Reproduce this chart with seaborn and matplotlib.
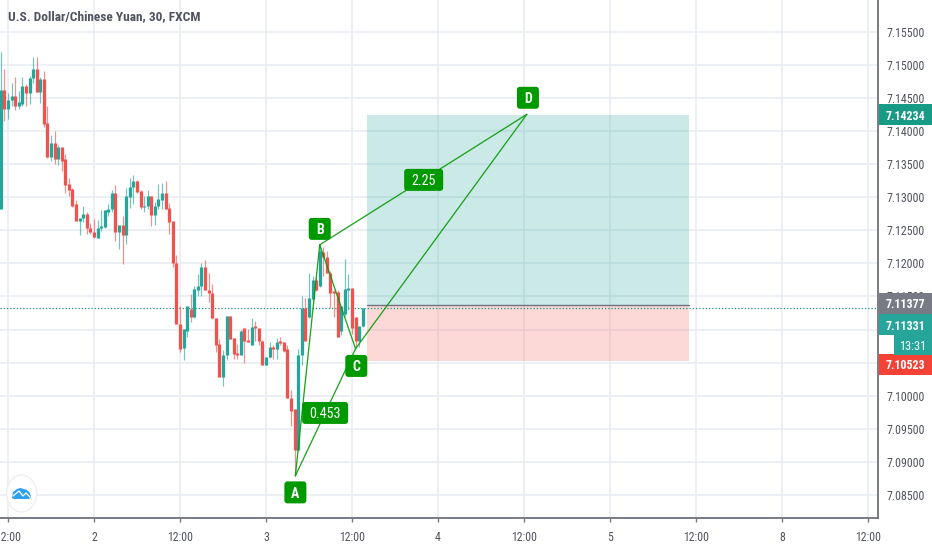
import numpy as np
import pandas as pd
import matplotlib
matplotlib.use("Agg")
import matplotlib.pyplot as plt
import seaborn as sns
from matplotlib.patches import FancyBboxPatch, Rectangle, Ellipse, Polygon
from matplotlib.transforms import IdentityTransform

# candles, 30 min bars. bar 0 = first 12:00 tick
bar_open = [7.1282, 7.1462, 7.1433, 7.1447, 7.1452, 7.1437, 7.1441, 7.1468, 7.1457, 7.1480,
            7.1494, 7.1459, 7.1478, 7.1412, 7.1360, 7.1381, 7.1357, 7.1376, 7.1357, 7.1320,
            7.1312, 7.1289, 7.1264, 7.1269, 7.1275, 7.1254, 7.1248, 7.1238, 7.1253, 7.1255,
            7.1278, 7.1282, 7.1306, 7.1247, 7.1258, 7.1243, 7.1300, 7.1315, 7.1324, 7.1309,
            7.1285, 7.1286, 7.1301, 7.1273, 7.1286, 7.1296, 7.1306, 7.1284, 7.1264, 7.1201,
            7.1109, 7.1072, 7.1098, 7.1131, 7.1119, 7.1160, 7.1165, 7.1194, 7.1160, 7.1155,
            7.1118, 7.1078, 7.1029, 7.1061, 7.1121, 7.1087, 7.1065, 7.1062, 7.1102, 7.1084,
            7.1077, 7.1105, 7.1103, 7.1083, 7.1047, 7.1058, 7.1073, 7.1071, 7.1082, 7.1081,
            7.1071, 7.0997, 7.0980, 7.0918, 7.1061, 7.1133, 7.1119, 7.1146, 7.1175, 7.1166,
            7.1217, 7.1210, 7.1186, 7.1158, 7.1156, 7.1098, 7.1123, 7.1160, 7.1163, 7.1119,
            7.1083, 7.1106]
bar_high = [7.1519, 7.1494, 7.1457, 7.1472, 7.1481, 7.1461, 7.1481, 7.1471, 7.1483, 7.1512,
            7.1511, 7.1482, 7.1491, 7.1437, 7.1394, 7.1400, 7.1379, 7.1376, 7.1365, 7.1329,
            7.1313, 7.1296, 7.1269, 7.1286, 7.1278, 7.1261, 7.1267, 7.1265, 7.1280, 7.1280,
            7.1290, 7.1311, 7.1319, 7.1258, 7.1272, 7.1314, 7.1329, 7.1333, 7.1326, 7.1310,
            7.1301, 7.1311, 7.1301, 7.1292, 7.1320, 7.1321, 7.1325, 7.1291, 7.1264, 7.1212,
            7.1136, 7.1101, 7.1136, 7.1154, 7.1165, 7.1184, 7.1200, 7.1205, 7.1186, 7.1169,
            7.1118, 7.1086, 7.1069, 7.1121, 7.1121, 7.1087, 7.1078, 7.1099, 7.1102, 7.1101,
            7.1118, 7.1113, 7.1103, 7.1084, 7.1059, 7.1081, 7.1077, 7.1087, 7.1088, 7.1081,
            7.1077, 7.1008, 7.0980, 7.1071, 7.1151, 7.1147, 7.1185, 7.1181, 7.1179, 7.1227,
            7.1224, 7.1218, 7.1188, 7.1160, 7.1160, 7.1135, 7.1207, 7.1184, 7.1163, 7.1119,
            7.1106, 7.1133]
bar_low = [7.1282, 7.1415, 7.1418, 7.1438, 7.1432, 7.1433, 7.1438, 7.1438, 7.1441, 7.1473,
           7.1458, 7.1442, 7.1406, 7.1359, 7.1354, 7.1350, 7.1349, 7.1339, 7.1306, 7.1302,
           7.1285, 7.1264, 7.1242, 7.1262, 7.1245, 7.1245, 7.1238, 7.1238, 7.1249, 7.1254,
           7.1272, 7.1277, 7.1234, 7.1222, 7.1199, 7.1229, 7.1284, 7.1289, 7.1306, 7.1282,
           7.1278, 7.1282, 7.1257, 7.1258, 7.1282, 7.1282, 7.1282, 7.1245, 7.1194, 7.1108,
           7.1066, 7.1054, 7.1089, 7.1111, 7.1118, 7.1151, 7.1150, 7.1159, 7.1141, 7.1116,
           7.1066, 7.1028, 7.1014, 7.1054, 7.1085, 7.1055, 7.1056, 7.1061, 7.1050, 7.1081,
           7.1076, 7.1083, 7.1077, 7.1046, 7.1046, 7.1057, 7.1056, 7.1056, 7.1077, 7.1066,
           7.0997, 7.0955, 7.0879, 7.0917, 7.1046, 7.1082, 7.1118, 7.1145, 7.1158, 7.1164,
           7.1181, 7.1186, 7.1133, 7.1119, 7.1089, 7.1091, 7.1121, 7.1130, 7.1093, 7.1073,
           7.1073, 7.1104]
bar_close = [7.1462, 7.1433, 7.1447, 7.1452, 7.1437, 7.1444, 7.1468, 7.1457, 7.1480, 7.1494,
             7.1458, 7.1478, 7.1411, 7.1360, 7.1381, 7.1357, 7.1376, 7.1355, 7.1319, 7.1311,
             7.1286, 7.1264, 7.1269, 7.1275, 7.1253, 7.1248, 7.1239, 7.1254, 7.1256, 7.1280,
             7.1282, 7.1306, 7.1247, 7.1258, 7.1243, 7.1301, 7.1316, 7.1324, 7.1307, 7.1285,
             7.1287, 7.1301, 7.1273, 7.1287, 7.1297, 7.1306, 7.1282, 7.1263, 7.1201, 7.1109,
             7.1071, 7.1101, 7.1135, 7.1119, 7.1161, 7.1165, 7.1194, 7.1160, 7.1155, 7.1118,
             7.1077, 7.1029, 7.1062, 7.1121, 7.1086, 7.1063, 7.1061, 7.1098, 7.1082, 7.1081,
             7.1104, 7.1102, 7.1083, 7.1047, 7.1059, 7.1073, 7.1071, 7.1081, 7.1079, 7.1068,
             7.0997, 7.0977, 7.0918, 7.1061, 7.1133, 7.1082, 7.1147, 7.1175, 7.1159, 7.1219,
             7.1209, 7.1186, 7.1155, 7.1155, 7.1089, 7.1135, 7.1161, 7.1162, 7.1103, 7.1083,
             7.1106, 7.1133]
first_bar = -2

# harmonic pattern points A B C D
point_names = ["A", "B", "C", "D"]
point_bars = [80.2, 87.0, 97.0, 144.8]
point_prices = [7.0879, 7.1228, 7.1071, 7.1425]
pattern_legs = [("A", "B"), ("B", "C"), ("C", "D"), ("B", "D"), ("A", "C")]
letter_bars = [80.2, 87.0, 97.2, 145.1]
letter_prices = [7.0854, 7.1252, 7.1045, 7.1450]
ratio_texts = ["0.453", "2.25"]
ratio_bars = [88.5, 116.0]
ratio_prices = [7.0974, 7.1326]

# long position box
box_start, box_end = 100.2, 190.0
target_price = 7.14234
entry_price = 7.11377
stop_price = 7.10523
last_price = 7.11331

x_ticks = [0, 24, 48, 72, 96, 120, 144, 168, 192, 216, 240]
x_labels = ["12:00", "2", "12:00", "3", "12:00", "4", "12:00", "5", "12:00", "8", "12:00"]
y_ticks = [7.085, 7.09, 7.095, 7.10, 7.105, 7.11, 7.115, 7.12, 7.125, 7.13, 7.135, 7.14, 7.145, 7.15, 7.155]
# 7.105 and 7.11 sit behind the price tags
y_labels = ["7.08500", "7.09000", "7.09500", "7.10000", "", "", "7.11500", "7.12000", "7.12500", "7.13000",
            "7.13500", "7.14000", "7.14500", "7.15000", "7.15500"]

UP = "#26a69a"
DOWN = "#ef5350"
PATTERN = "#0a9a0a"
TEXT = "#50535e"
AXIS = "#787b86"
GRID = "#e9edf3"
FONT = ["Roboto Condensed", "Roboto", "DejaVu Sans"]

sns.set_theme(style="white", rc={"axes.facecolor": "white", "figure.facecolor": "white"})
plt.rcParams["font.family"] = FONT

W, H = 932, 550
fig = plt.figure(figsize=(W / 100, H / 100), dpi=100)
ax = fig.add_axes([0, (H - 518) / H, 878 / W, 518 / H])
ax.set_xlim(-2.233, 242.8)
ax.set_ylim(7.08153, 7.15977)

# long form tables for the candles
bars = np.arange(first_bar, first_bar + len(bar_open))
candles = pd.DataFrame({"bar": bars, "o": bar_open, "h": bar_high, "l": bar_low, "c": bar_close})
candles["direction"] = np.where(candles["c"] >= candles["o"], "up", "down")
wicks = candles.melt(id_vars=["bar", "direction"], value_vars=["h", "l"], value_name="price")
bodies = candles.melt(id_vars=["bar", "direction"], value_vars=["o", "c"], value_name="price")
colors = {"up": UP, "down": DOWN}

ax.fill_between([box_start, box_end], entry_price, target_price, color="#26a69a", alpha=0.24, lw=0, zorder=1.5)
ax.fill_between([box_start, box_end], stop_price, entry_price, color="#f44336", alpha=0.2, lw=0, zorder=1.5)
ax.plot([box_start, box_end], [entry_price, entry_price], color="#6f7280", lw=1.0, zorder=1.7)
ax.axhline(last_price, color="#1c8f83", lw=0.9, ls=(0, (1, 1.6)), zorder=1.8)

sns.lineplot(data=wicks, x="bar", y="price", units="bar", hue="direction", palette=colors, estimator=None,
             sort=False, lw=0.85, alpha=0.65, legend=False, ax=ax, zorder=3, solid_capstyle="butt")
sns.lineplot(data=bodies, x="bar", y="price", units="bar", hue="direction", palette=colors, estimator=None,
             sort=False, lw=2.35, legend=False, ax=ax, zorder=3.1, solid_capstyle="butt")

# pattern lines
lookup = dict(zip(point_names, zip(point_bars, point_prices)))
rows = []
for i, leg in enumerate(pattern_legs):
    for name in leg:
        rows.append({"leg": i, "bar": lookup[name][0], "price": lookup[name][1]})
sns.lineplot(data=pd.DataFrame(rows), x="bar", y="price", units="leg", estimator=None, sort=False,
             color=PATTERN, lw=0.95, alpha=0.9, legend=False, ax=ax, zorder=4)

ax.set_xlabel("")
ax.set_ylabel("")
ax.yaxis.tick_right()
ax.set_xticks(x_ticks)
ax.set_xticklabels(x_labels)
ax.set_yticks(y_ticks)
ax.set_yticklabels(y_labels)
ax.grid(True, color=GRID, lw=1.2)
ax.set_axisbelow(True)
ax.tick_params(axis="both", length=3, width=1, color=AXIS, labelcolor=TEXT, labelsize=8.6, pad=3.2,
               bottom=True, right=True, left=False)
ax.tick_params(axis="x", pad=6.5)
sns.despine(ax=ax, left=True, top=True, right=False, bottom=False)
for side in ["right", "bottom"]:
    ax.spines[side].set_color(AXIS)
    ax.spines[side].set_linewidth(1.4)


def label_box(cx, cy, w, h, text, face="#009a00", size=10, radius=3, weight="normal"):
    # box given in picture pixels, y measured from the top
    px, py = cx, H - cy
    ax.add_patch(FancyBboxPatch((px - w / 2, py - h / 2), w, h, boxstyle=f"round,pad=0,rounding_size={radius}",
                                fc=face, ec="none", transform=IdentityTransform(), clip_on=False, zorder=6))
    ax.text(px, py, text, color="white", fontsize=size, ha="center", va="center_baseline", weight=weight,
            transform=IdentityTransform(), clip_on=False, zorder=7)


def data_px(bar, price):
    x, y = ax.transData.transform((bar, price))
    return x, H - y


for name, b, p in zip(point_names, letter_bars, letter_prices):
    cx, cy = data_px(b, p)
    label_box(cx, cy, 22, 22, name, size=10, weight="bold")
for text, b, p, w in zip(ratio_texts, ratio_bars, ratio_prices, [46, 39]):
    cx, cy = data_px(b, p)
    label_box(cx, cy, w, 22, text, size=10.2)

# price tags on the right axis
tag_texts = ["7.14234", "7.11377", "7.11331", "7.10523"]
tag_colors = ["#179a86", "#787b86", "#26a69a", "#f44336"]
tag_centres = [114.5, 303.5, 324.5, 364.0]
for text, c, cy in zip(tag_texts, tag_colors, tag_centres):
    ax.add_patch(Rectangle((879, H - cy - 10.5), W - 879, 21, fc=c, ec="none", transform=IdentityTransform(),
                           clip_on=False, zorder=8))
    ax.text(886, H - cy, text, color="white", fontsize=8.6, weight="bold", ha="left", va="center_baseline",
            transform=IdentityTransform(), clip_on=False, zorder=9)
ax.add_patch(Rectangle((894, H - 354.5), W - 894, 20, fc="#26a69a", ec="none", transform=IdentityTransform(),
                       clip_on=False, zorder=8))
ax.text(913, H - 344.5, "13:31", color="white", fontsize=8.8, ha="center", va="center_baseline",
        transform=IdentityTransform(), clip_on=False, zorder=9)

fig.text(8 / W, 1 - 16.5 / H, "U.S. Dollar/Chinese Yuan, 30, FXCM", color=TEXT, fontsize=9.6, ha="left", va="center",
         weight="bold")

# little logo bottom left
ax.add_patch(Ellipse((21.5, H - 493.5), 30, 37, fc="white", ec="#eeeeee", lw=1, transform=IdentityTransform(),
                     clip_on=False, zorder=6))
cloud = [(12, 498), (13, 492), (17, 489), (20, 488), (24, 489), (27, 490), (30, 493), (31, 497), (29, 499), (14, 499)]
ax.add_patch(Polygon([(x, H - y) for x, y in cloud], fc="#2f9ff0", ec="none", transform=IdentityTransform(),
                     clip_on=False, zorder=7))
zig = [(13, 496), (19, 491), (23, 496), (26, 493), (30, 497)]
ax.plot([x for x, y in zig], [H - y for x, y in zig], color="white", lw=0.9, transform=IdentityTransform(),
        clip_on=False, zorder=8)

fig.savefig("out.png", dpi=100)
